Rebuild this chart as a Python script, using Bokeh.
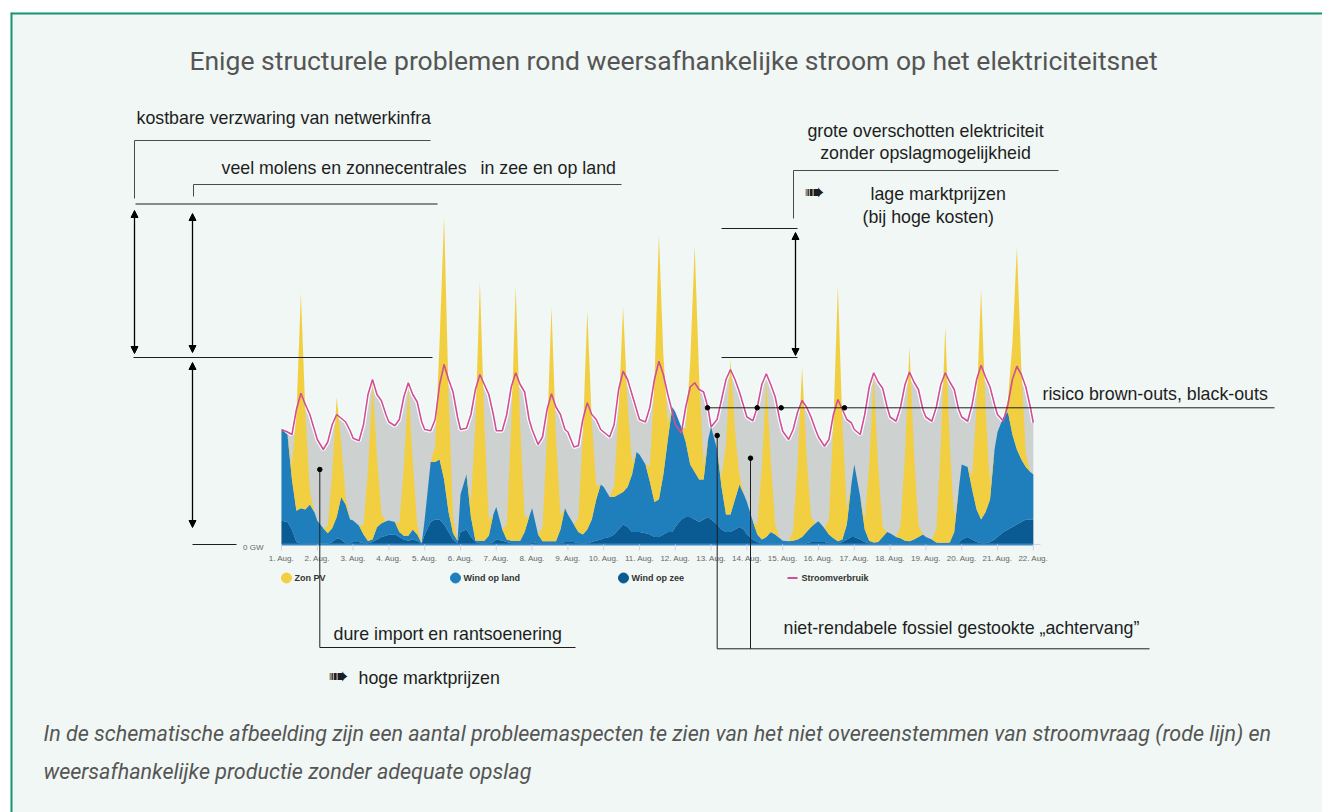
from bokeh.plotting import figure
from bokeh.models import ColumnDataSource, Range1d, Arrow, NormalHead, Span
from bokeh.core.properties import value
from bokeh.embed import file_html
from bokeh.resources import INLINE

# ---------------- data (GW) ----------------
HOURS = [0, 4, 7, 10, 13, 16, 19, 22]
DAYS = list(range(1, 22))
END_DAY = 22

wind_op_zee = [
    [9.5, 9.0, 6.0, 1.0, 0.5, 0.5, 0.5, 0.5],
    [0.5, 0.3, 0.3, 1.0, 2.5, 2.0, 0.5, 0.5],
    [1.0, 1.0, 0.5, 0.5, 1.0, 2.0, 3.0, 3.5],
    [4.0, 4.0, 3.0, 2.0, 1.5, 2.0, 1.5, 0.3],
    [4.0, 9.0, 10.0, 10.0, 8.0, 5.0, 2.0, 0.5],
    [5.0, 6.0, 3.0, 1.0, 0.5, 0.5, 0.5, 1.0],
    [2.0, 1.5, 1.0, 0.5, 0.5, 0.5, 0.5, 0.5],
    [1.0, 0.5, 0.5, 0.5, 0.5, 0.5, 0.5, 1.0],
    [1.0, 1.0, 0.5, 0.5, 0.5, 1.0, 1.5, 2.0],
    [2.5, 3.0, 4.0, 6.0, 8.0, 7.0, 5.0, 5.0],
    [5.0, 4.5, 4.0, 3.0, 3.0, 4.0, 5.0, 5.0],
    [7.0, 10.0, 11.0, 11.0, 10.0, 9.0, 10.0, 11.0],
    [10.0, 8.0, 6.0, 5.0, 5.0, 6.0, 7.0, 6.0],
    [4.0, 2.0, 1.0, 0.5, 0.5, 0.5, 0.5, 0.5],
    [0.5, 0.5, 0.5, 0.5, 0.5, 0.5, 1.0, 1.0],
    [1.0, 1.0, 0.5, 0.5, 0.5, 1.0, 2.0, 3.0],
    [3.0, 2.0, 1.0, 0.5, 0.5, 0.5, 0.5, 0.5],
    [0.5, 0.5, 0.5, 0.5, 0.5, 0.5, 0.5, 0.5],
    [0.5, 0.5, 0.5, 0.5, 0.5, 0.5, 0.5, 0.5],
    [2.0, 3.0, 2.0, 1.0, 0.5, 0.5, 1.0, 2.0],
    [3.0, 5.0, 6.0, 7.0, 8.0, 9.0, 10.0, 10.0],
]
wind_op_zee_end = 10.0

wind_op_land = [
    [36.5, 35.0, 20.0, 12.5, 14.0, 13.5, 15.5, 12.5],
    [9.0, 6.2, 4.2, 5.5, 8.5, 17.0, 15.5, 9.5],
    [8.6, 6.5, 3.5, 0.9, 1.0, 4.9, 5.5, 5.8],
    [5.6, 5.0, 2.0, 1.5, 2.0, 4.0, 2.5, 0.2],
    [6.0, 24.0, 23.0, 24.0, 18.0, 8.0, 2.5, 1.0],
    [15.0, 22.0, 8.0, 0.6, 1.0, 1.0, 3.0, 11.0],
    [13.0, 4.5, 1.0, 1.0, 1.0, 1.0, 4.5, 10.5],
    [13.5, 3.5, 0.8, 0.8, 0.8, 0.8, 5.5, 13.5],
    [11.0, 7.0, 4.5, 3.5, 5.5, 9.0, 16.5, 22.0],
    [20.5, 16.0, 15.0, 14.0, 13.0, 16.0, 23.0, 32.0],
    [31.0, 27.5, 21.0, 14.0, 15.0, 24.0, 37.0, 50.0],
    [46.0, 37.0, 30.0, 21.0, 19.0, 17.0, 16.0, 31.0],
    [37.0, 30.0, 17.0, 7.0, 7.0, 12.0, 17.0, 14.0],
    [13.0, 7.3, 3.0, 1.5, 2.5, 4.5, 3.5, 2.0],
    [1.0, 0.8, 1.0, 1.5, 2.5, 4.5, 6.0, 7.5],
    [8.3, 5.5, 3.5, 2.0, 0.8, 1.0, 6.0, 21.0],
    [29.0, 17.0, 5.0, 1.0, 0.3, 0.5, 2.5, 4.5],
    [4.0, 2.5, 2.0, 1.0, 0.8, 1.5, 2.5, 3.5],
    [2.5, 1.5, 0.3, 0.2, 0.2, 0.3, 4.5, 21.5],
    [30.0, 28.0, 20.0, 13.0, 9.5, 12.5, 17.0, 36.0],
    [42.0, 46.0, 47.0, 37.0, 30.0, 25.0, 21.0, 19.0],
]
wind_op_land_end = 18.0

zon_pv = [
    [0, 0, 5.2, 38.7, 86.0, 38.7, 5.2, 0],
    [0, 0, 2.9, 21.6, 48.0, 21.6, 2.9, 0],
    [0, 0, 3.8, 28.4, 63.0, 28.4, 3.8, 0],
    [0, 0, 3.6, 27.0, 60.0, 27.0, 3.6, 0],
    [0, 0, 6.3, 47.3, 105.0, 47.3, 6.3, 0],
    [0, 0, 6.2, 46.6, 103.5, 46.6, 6.2, 0],
    [0, 0, 6.1, 45.7, 101.5, 45.7, 6.1, 0],
    [0, 0, 5.6, 42.2, 93.7, 42.2, 5.6, 0],
    [0, 0, 5.3, 39.4, 87.6, 39.4, 5.3, 0],
    [0, 0, 4.4, 33.3, 74.0, 33.3, 4.4, 0],
    [0, 0, 6.4, 47.7, 106.0, 47.7, 6.4, 0],
    [0, 0, 5.4, 40.7, 90.5, 40.7, 5.4, 0],
    [0, 0, 3.7, 27.9, 62.0, 27.9, 3.7, 0],
    [0, 0, 3.8, 28.4, 63.0, 28.4, 3.8, 0],
    [0, 0, 4.1, 30.6, 68.0, 30.6, 4.1, 0],
    [0, 0, 6.1, 46.0, 102.3, 46.0, 6.1, 0],
    [0, 0, 4.0, 30.2, 67.0, 30.2, 4.0, 0],
    [0, 0, 4.7, 35.0, 77.7, 35.0, 4.7, 0],
    [0, 0, 5.2, 38.8, 86.3, 38.8, 5.2, 0],
    [0, 0, 5.5, 41.4, 92.0, 41.4, 5.5, 0],
    [0, 0, 4.9, 36.5, 81.0, 36.5, 4.9, 0],
]
zon_pv_end = 0.0

stroomverbruik = [
    [46.0, 45.0, 44.0, 54.0, 60.5, 56.0, 52.0, 46.0],
    [42.0, 38.0, 41.0, 48.0, 52.0, 50.5, 49.0, 45.5],
    [42.5, 41.5, 48.0, 60.0, 66.0, 60.0, 57.5, 52.0],
    [49.0, 47.5, 50.0, 59.0, 64.7, 60.0, 57.0, 49.0],
    [46.0, 45.5, 50.0, 64.0, 72.0, 66.0, 61.0, 51.0],
    [46.0, 46.5, 52.0, 62.0, 68.0, 64.0, 60.0, 52.0],
    [45.5, 45.5, 52.0, 63.0, 68.7, 64.0, 61.0, 50.0],
    [46.0, 40.0, 43.0, 54.0, 60.3, 55.0, 52.0, 46.0],
    [45.0, 39.0, 39.5, 50.0, 56.7, 52.0, 50.0, 46.0],
    [45.0, 43.0, 48.0, 62.0, 69.3, 66.0, 60.0, 54.0],
    [50.0, 49.0, 55.0, 66.0, 73.3, 68.0, 60.0, 53.0],
    [48.0, 44.5, 55.0, 63.0, 64.7, 62.0, 61.0, 54.5],
    [47.0, 50.0, 58.0, 66.0, 70.0, 66.0, 61.0, 55.0],
    [51.0, 49.5, 55.0, 64.0, 68.3, 64.0, 59.0, 50.0],
    [45.3, 42.0, 46.0, 53.0, 57.6, 55.0, 51.0, 46.0],
    [43.0, 39.3, 42.0, 52.0, 58.0, 54.0, 50.0, 48.7],
    [46.0, 44.0, 52.0, 63.0, 68.7, 65.0, 62.5, 55.0],
    [51.0, 49.3, 55.0, 64.0, 69.0, 65.0, 62.0, 54.0],
    [51.0, 49.3, 55.0, 64.0, 68.7, 65.0, 62.0, 54.0],
    [51.0, 49.3, 56.0, 66.0, 71.7, 67.0, 63.0, 56.0],
    [52.0, 49.3, 56.0, 66.0, 71.3, 68.0, 63.0, 55.0],
]
stroomverbruik_end = 48.7

TICK_DAYS = list(range(1, 23))
TICK_LABELS = [f"{d}. Aug." for d in TICK_DAYS]
SERIES_NAMES = ["Zon PV", "Wind op land", "Wind op zee", "Stroomverbruik"]

# ---------------- colours ----------------
C_ZON = "#f2cf40"
C_LAND = "#1f7fbd"
C_ZEE = "#0a5a93"
C_REST = "#cdd1d0"
C_LOAD = "#cf4f98"
BG = "#f0f7f4"
BORDER = "#179572"
INK = "#1e1e1e"


def flat(rows, end):
    return [v for row in rows for v in row] + [end]


t = [d + h / 24.0 for d in DAYS for h in HOURS] + [float(END_DAY)]
src = ColumnDataSource(dict(
    t=t,
    zee=flat(wind_op_zee, wind_op_zee_end),
    land=flat(wind_op_land, wind_op_land_end),
    zon=flat(zon_pv, zon_pv_end),
    load=flat(stroomverbruik, stroomverbruik_end),
))

# ---------------- figure / coordinate frame ----------------
W, H = 1322, 812
PX_PER_DAY = 35.8
PX_PER_GW = 2.5
X0_PX, Y0_PX = 281.0, 544.0   # page position of 1 Aug / 0 GW
LEFT_PX, TOP_PX = 10, 12


def X(px):
    return 1 + (px - X0_PX) / PX_PER_DAY


def Y(py):
    return (Y0_PX - py) / PX_PER_GW


p = figure(width=W, height=H, output_backend="svg", toolbar_location=None,
           x_axis_type=None, y_axis_type=None,
           x_range=Range1d(X(LEFT_PX), X(W)), y_range=Range1d(Y(H), Y(TOP_PX)),
           min_border_left=LEFT_PX, min_border_top=TOP_PX, min_border_right=0,
           min_border_bottom=0,
           background_fill_color=BG, border_fill_color="white", outline_line_color=None)
p.grid.visible = False

# ---------------- data marks ----------------
p.varea(x="t", y1=0, y2="load", source=src, color=C_REST)
p.line(x="t", y="load", source=src, line_color="white", line_width=4)
p.varea_stack(stackers=["zee", "land", "zon"], x="t", source=src,
              color=[C_ZEE, C_LAND, C_ZON])
p.line(x="t", y="load", source=src, line_color=C_LOAD, line_width=1.6)

# x axis
p.segment(x0=[1], y0=[0], x1=[X(1040)], y1=[0], line_color="#ccd6eb", line_width=1)
p.segment(x0=[DAYS[0]], y0=[0], x1=[END_DAY], y1=[0], line_color="#3a86c0", line_width=2)
p.segment(x0=TICK_DAYS, y0=[0] * len(TICK_DAYS), x1=TICK_DAYS,
          y1=[Y(550)] * len(TICK_DAYS), line_color="#ccd6eb", line_width=1)
p.text(x=TICK_DAYS, y=[Y(557.5)] * len(TICK_DAYS), text=TICK_LABELS,
       text_font=value("Liberation Sans"), text_font_size="8px", text_color="#666666",
       text_align="center", text_baseline="middle")
p.text(x=[X(263)], y=[Y(547)], text=["0 GW"], text_font=value("Liberation Sans"),
       text_font_size="8px", text_color="#666666", text_align="right", text_baseline="middle")

# legend
leg_y = Y(577.5)
p.scatter(x=[X(286), X(455), X(623)], y=[leg_y] * 3, size=10,
          color=[C_ZON, C_LAND, C_ZEE], marker="circle")
p.segment(x0=[X(787)], y0=[leg_y], x1=[X(797)], y1=[leg_y], line_color=C_LOAD, line_width=2)
p.text(x=[X(294), X(463), X(631), X(801)], y=[leg_y] * 4, text=SERIES_NAMES,
       text_font=value("Liberation Sans"), text_font_size="9px", text_font_style="bold",
       text_color="#333333", text_align="left", text_baseline="middle")


# ---------------- annotations ----------------
def pl(pts, color=INK, width=1.0):
    p.line(x=[X(a) for a, b in pts], y=[Y(b) for a, b in pts], line_color=color,
           line_width=width)


GRAY = "#4a4a4a"
pl([(134, 198), (134, 140), (430, 140)], GRAY)
pl([(193, 196), (193, 184), (621, 184)], GRAY)
pl([(793, 218), (793, 170), (1058, 170)], GRAY)
pl([(135, 203.5), (437, 203.5)])
pl([(133, 357), (432, 357)])
pl([(192, 544), (236, 544)])
pl([(721, 228), (797, 228)])
pl([(721, 357), (797, 357)])
pl([(707, 407.3), (1274, 407.3)])
pl([(319.3, 469), (319.3, 647), (575, 647)])
pl([(716.7, 435), (716.7, 648.3), (1149, 648.3)])
pl([(750, 457.7), (750, 648.3)])

dots = [(707, 407.3), (756.7, 407.3), (780.7, 407.3), (844, 407.3),
        (319.3, 469), (716.7, 435), (750, 457.7)]
p.scatter(x=[X(a) for a, b in dots], y=[Y(b) for a, b in dots], size=4.5,
          color="black", marker="circle")

for (xa, ya, xb, yb) in [(134, 210, 134, 353), (192, 213, 192, 352),
                         (192, 362, 192, 527), (795, 232, 795, 355)]:
    p.add_layout(Arrow(x_start=X(xa), y_start=Y(ya), x_end=X(xb), y_end=Y(yb),
                       line_color="black", line_width=1.3,
                       start=NormalHead(size=7, fill_color="black", line_color="black"),
                       end=NormalHead(size=7, fill_color="black", line_color="black")))

ANN_FONT = "17.8px"
ann = ColumnDataSource(dict(
    x=[X(136), X(221), X(480), X(870), X(862), X(1042), X(333), X(358), X(783)],
    y=[Y(117), Y(167), Y(167), Y(193), Y(216), Y(393), Y(633), Y(677), Y(627)],
    text=["kostbare verzwaring van netwerkinfra",
          "veel molens en zonnecentrales",
          "in zee en op land",
          "lage marktprijzen",
          "(bij hoge kosten)",
          "risico brown-outs, black-outs",
          "dure import en rantsoenering",
          "hoge marktprijzen",
          "niet-rendabele fossiel gestookte \u201eachtervang\u201d"],
))
p.text(x="x", y="y", text="text", source=ann, text_font=value("Liberation Sans"),
       text_font_size=ANN_FONT, text_color=INK, text_align="left", text_baseline="middle")
p.text(x=[X(925), X(925)], y=[Y(130), Y(152)],
       text=["grote overschotten elektriciteit", "zonder opslagmogelijkheid"],
       text_font=value("Liberation Sans"), text_font_size=ANN_FONT, text_color=INK,
       text_align="center", text_baseline="middle")
p.text(x=[X(804), X(328)], y=[Y(191), Y(675)], text=["\u27a0", "\u27a0"],
       text_font=value("DejaVu Sans"), text_font_size="24px", text_color=INK,
       text_align="left", text_baseline="middle")

# title and caption
p.text(x=[X(673)], y=[Y(60)],
       text=["Enige structurele problemen rond weersafhankelijke stroom op het elektriciteitsnet"],
       text_font=value("Roboto"), text_font_size="26.5px", text_color="#555555",
       text_align="center", text_baseline="middle")
p.text(x=[X(43), X(43)], y=[Y(733), Y(771)],
       text=["In de schematische afbeelding zijn een aantal probleemaspecten te zien van het niet overeenstemmen van stroomvraag (rode lijn) en",
             "weersafhankelijke productie zonder adequate opslag"],
       text_font=value("Roboto"), text_font_size="21.5px", text_font_style="italic",
       text_color="#555555", text_align="left", text_baseline="middle")

# border of the card
p.add_layout(Span(location=X(LEFT_PX), dimension="height", line_color=BORDER, line_width=4))
p.add_layout(Span(location=Y(TOP_PX), dimension="width", line_color=BORDER, line_width=4))

open("out.html", "w").write(file_html(p, INLINE))
